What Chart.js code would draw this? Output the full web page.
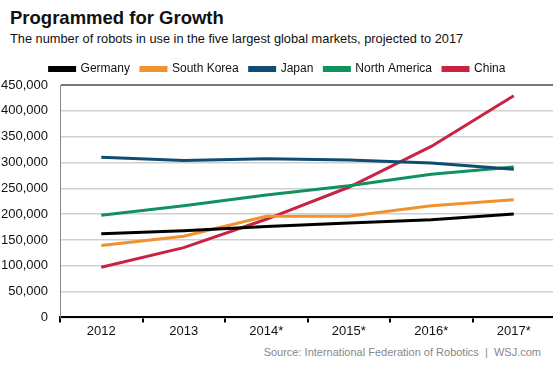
<!DOCTYPE html>
<html>
<head>
<meta charset="utf-8">
<script src="https://cdn.jsdelivr.net/npm/chart.js@4"></script>
<style>
  body { margin: 0; width: 553px; height: 369px; overflow: hidden; background: #fff; font-family: "Liberation Sans", Arial, sans-serif; position: relative; }
  #title { position: absolute; left: 10px; top: 7px; font-size: 18.5px; font-weight: bold; color: #111; }
  #subtitle { position: absolute; left: 10px; top: 31px; font-size: 12.8px; color: #111; }
  #source { position: absolute; right: 12px; top: 346px; font-size: 11px; color: #888; }
  #wrap { position: absolute; left: 0; top: 52px; width: 555px; height: 288px; }
</style>
</head>
<body>
<div id="title">Programmed for Growth</div>
<div id="subtitle">The number of robots in use in the five largest global markets, projected to 2017</div>
<div id="wrap"><canvas id="lineChart"></canvas></div>
<div id="source">Source: International Federation of Robotics &nbsp;|&nbsp; WSJ.com</div>
<script>
// data
const years = ['2012', '2013', '2014*', '2015*', '2016*', '2017*'];
const germany = [162000, 168000, 176000, 183000, 189000, 200000];
const southKorea = [139000, 157000, 196000, 196000, 216000, 228000];
const japan = [310000, 304000, 307000, 305000, 299000, 287000];
const northAmerica = [198000, 216000, 237000, 255000, 277000, 291000];
const china = [97000, 135000, 190000, 252000, 331000, 429000];

function series(label, values, color) {
  return {
    label: label,
    data: values,
    borderColor: color,
    backgroundColor: color,
    borderWidth: 3,
    pointRadius: 0,
    tension: 0,
    fill: false
  };
}

const ctx = document.getElementById('lineChart');
new Chart(ctx, {
  type: 'line',
  data: {
    labels: years,
    datasets: [
      series('Germany', germany, '#000000'),
      series('South Korea', southKorea, '#f0922e'),
      series('Japan', japan, '#0e4c72'),
      series('North America', northAmerica, '#10915e'),
      series('China', china, '#c92243')
    ]
  },
  options: {
    responsive: true,
    maintainAspectRatio: false,
    animation: false,
    layout: { padding: 0 },
    scales: {
      x: {
        offset: true,
        grid: { offset: true, drawOnChartArea: false, drawTicks: true, tickLength: 5, color: '#000', lineWidth: 2 },
        border: { color: '#000', width: 2 },
        ticks: { color: '#111', font: { size: 13, family: 'Liberation Sans' }, padding: 1, maxRotation: 0 }
      },
      y: {
        min: 0,
        max: 450000,
        afterFit: scale => { scale.width = 60; },   // keep the axis at x=60 like the original
        ticks: {
          stepSize: 50000,
          color: '#111',
          padding: 12,
          font: { size: 13, family: 'Liberation Sans' },
          callback: v => v.toLocaleString('en-US')
        },
        grid: {
          drawTicks: false,
          color: c => c.tick && c.tick.value === 450000 ? '#777' : '#d0d0d0',
          lineWidth: c => c.tick && c.tick.value === 450000 ? 2 : 1.5
        },
        border: { color: '#888', width: 1 }
      }
    },
    plugins: {
      tooltip: { enabled: false },
      legend: {
        display: true,
        position: 'top',
        align: 'center',
        labels: {
          boxWidth: 25,
          boxHeight: 3,
          padding: 11,
          color: '#111',
          font: { size: 12, family: 'Liberation Sans' }
        }
      }
    }
  }
});
</script>
</body>
</html>
